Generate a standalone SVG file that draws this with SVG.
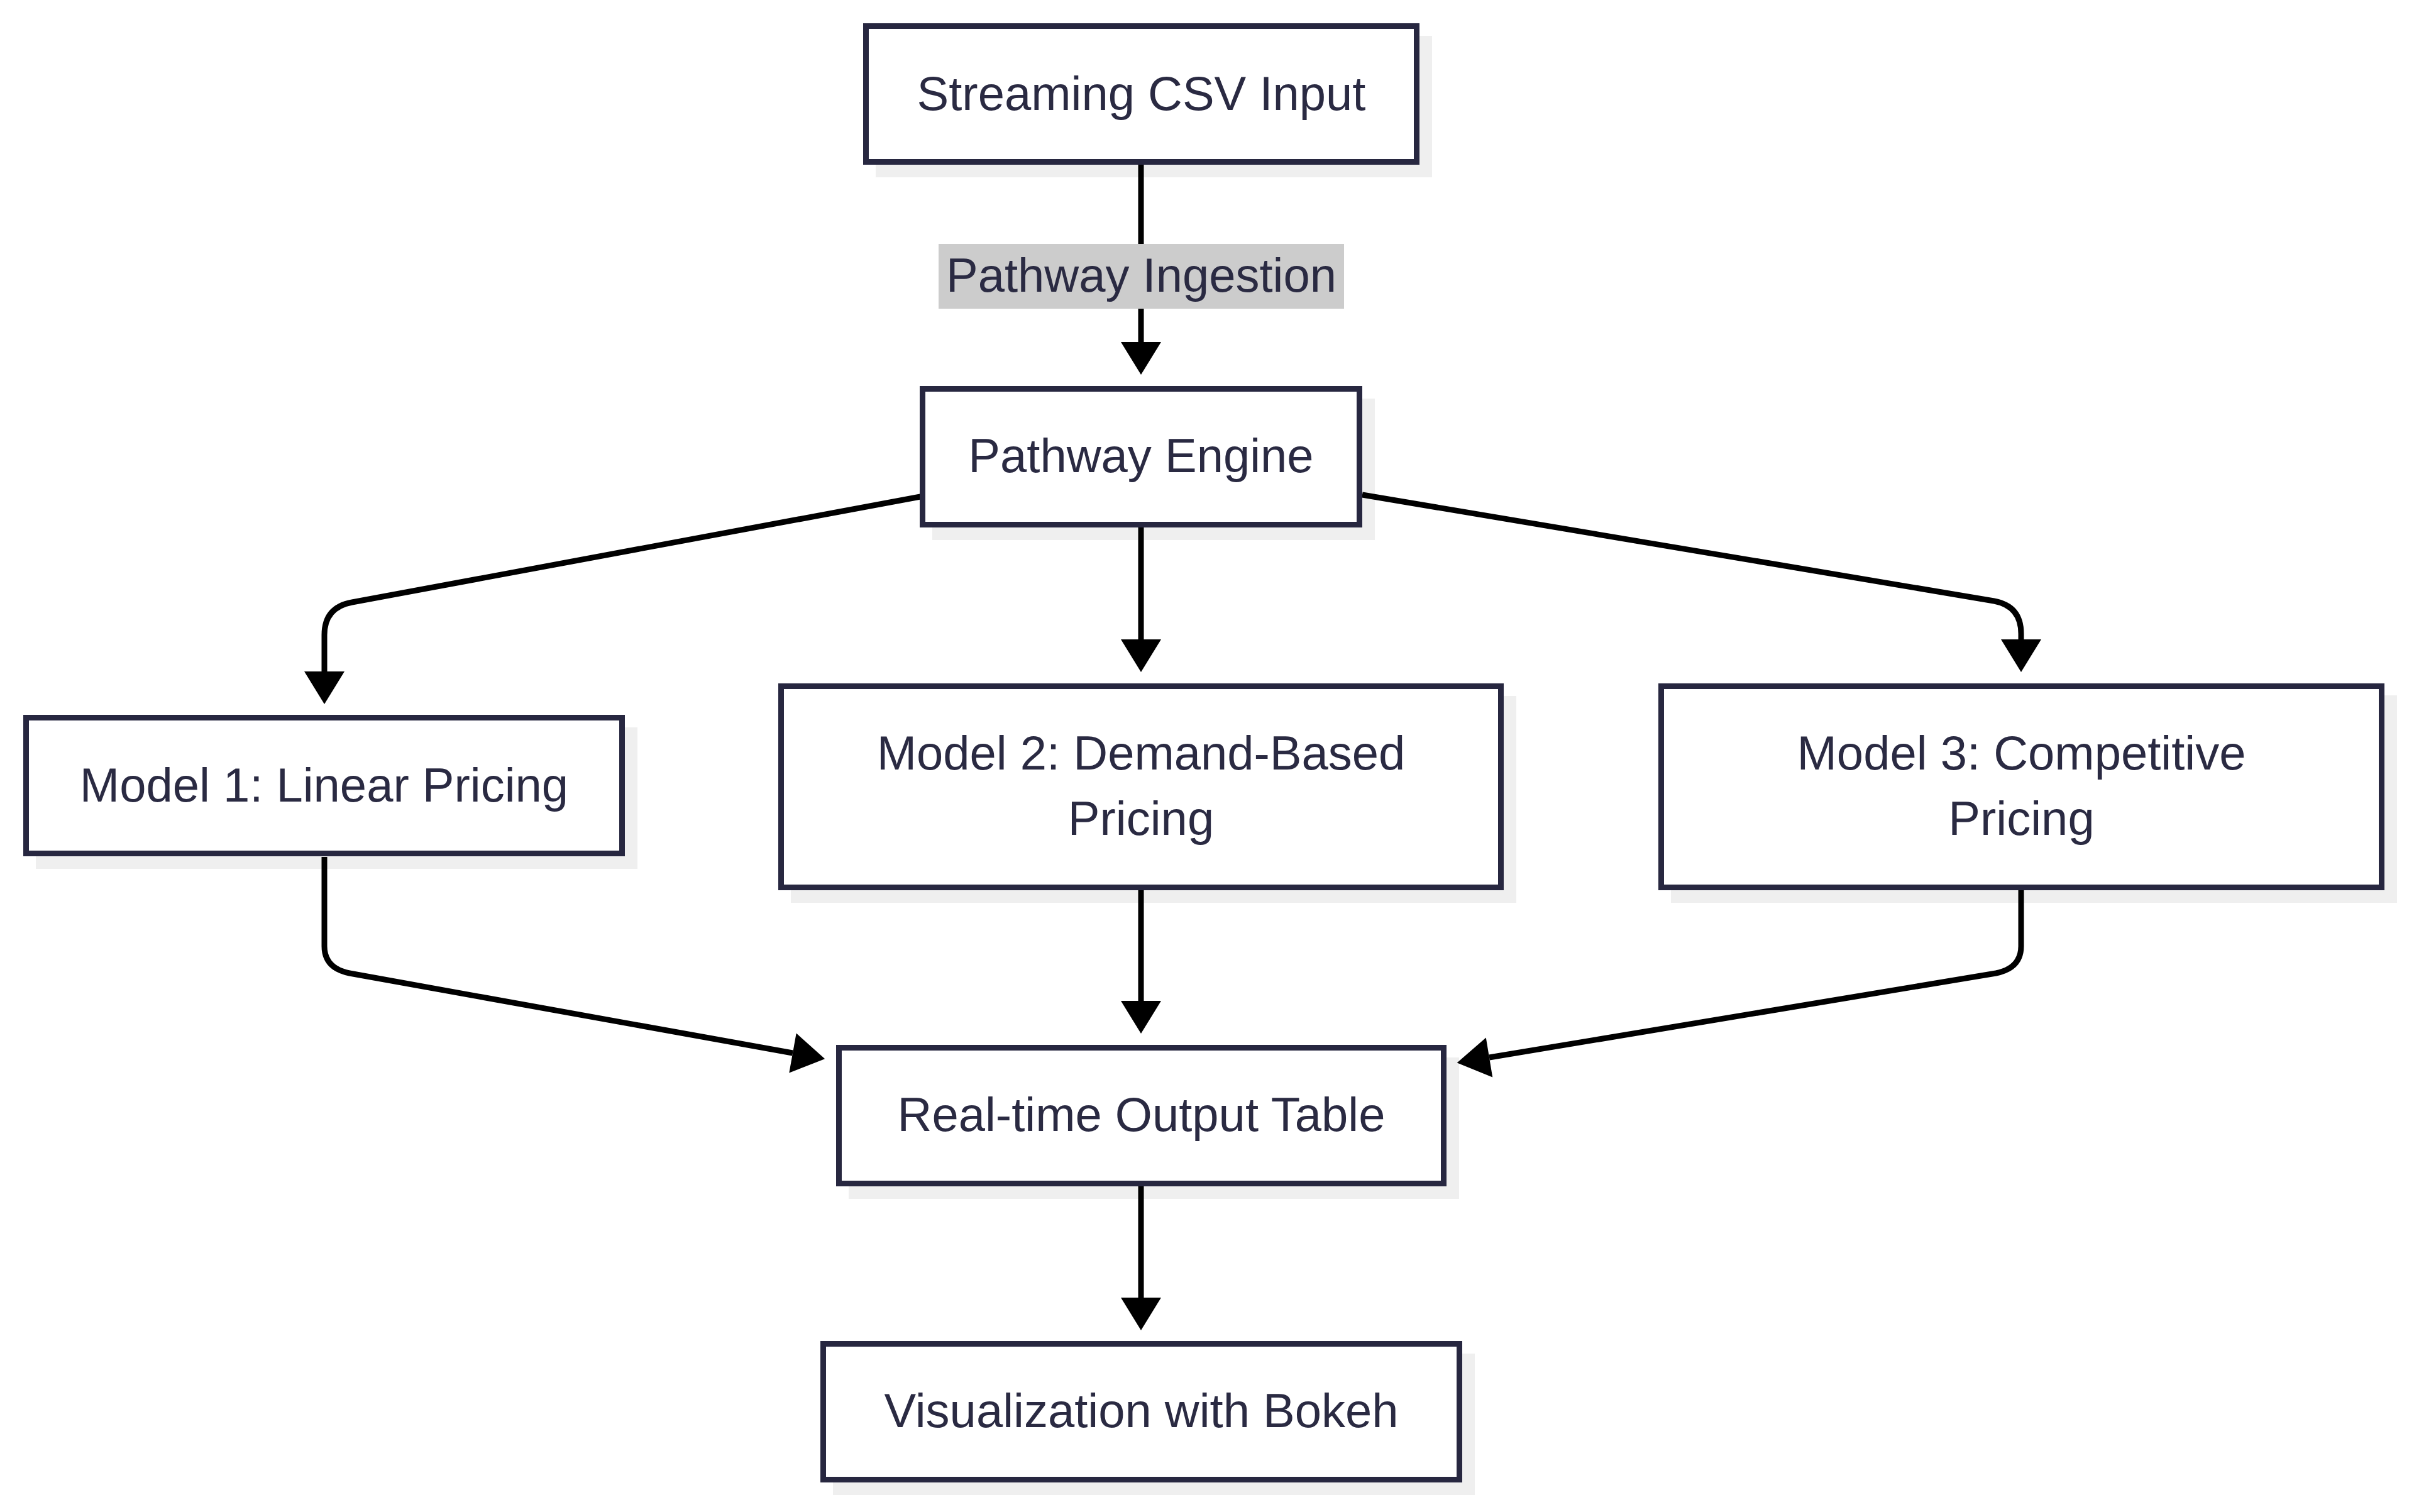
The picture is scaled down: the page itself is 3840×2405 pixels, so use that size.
<svg xmlns="http://www.w3.org/2000/svg" width="3840" height="2405" viewBox="0 0 3840 2405">
<style>
.shadow{fill:#efefef;stroke:none}
.box{fill:#ffffff;stroke:#272740;stroke-width:9}
.lbl{font-family:"Liberation Sans",Arial,sans-serif;font-size:76px;fill:#2a2a42;text-anchor:middle}
.edge{fill:none;stroke:#000000;stroke-width:9}
.elbg{fill:#cccccc}
</style>
<defs>
<marker id="arr" markerUnits="userSpaceOnUse" markerWidth="54" markerHeight="66" refX="0" refY="32" orient="auto" overflow="visible">
<path d="M0,0 L52,32 L0,64 z" fill="#000000"/>
</marker>
</defs>
<rect width="3840" height="2405" fill="#ffffff"/>
<g id="shadows">
<rect class="shadow" x="1393" y="57" width="885" height="225"/>
<rect class="shadow" x="1483" y="634" width="704" height="225"/>
<rect class="shadow" x="57" y="1157" width="957" height="225"/>
<rect class="shadow" x="1258" y="1107" width="1154" height="329"/>
<rect class="shadow" x="2658" y="1106" width="1155" height="330"/>
<rect class="shadow" x="1350" y="1682" width="971" height="225"/>
<rect class="shadow" x="1325" y="2153" width="1021" height="225"/>
</g>
<g id="connectors">
<path class="edge" d="M1815,262 L1815,544" marker-end="url(#arr)"/>
<path class="edge" d="M1815,839 L1815,1017" marker-end="url(#arr)"/>
<path class="edge" d="M1464,790 L560,958 Q516,966 516,1010 L516,1068" marker-end="url(#arr)"/>
<path class="edge" d="M2167,787 L3172,956 Q3215,964 3215,1008 L3215,1017" marker-end="url(#arr)"/>
<path class="edge" d="M516,1363 L516,1505 Q516,1540 556,1548 L1261,1675" marker-end="url(#arr)"/>
<path class="edge" d="M3215,1416 L3215,1505 Q3215,1540 3175,1548 L2369,1682" marker-end="url(#arr)"/>
<path class="edge" d="M1815,1416 L1815,1592" marker-end="url(#arr)"/>
<path class="edge" d="M1815,1887 L1815,2064" marker-end="url(#arr)"/>
<g id="label-ingestion">
<rect class="elbg" x="1493" y="388" width="645" height="103"/>
<text class="lbl" x="1815.5" y="464">Pathway Ingestion</text>
</g>
</g>
<g id="node-streaming">
<rect class="box" x="1377.5" y="41.5" width="876" height="216"/>
<text class="lbl" x="1815.5" y="175">Streaming CSV Input</text>
</g>
<g id="node-engine">
<rect class="box" x="1467.5" y="618.5" width="695" height="216"/>
<text class="lbl" x="1815" y="751">Pathway Engine</text>
</g>
<g id="node-model1">
<rect class="box" x="41.5" y="1141.5" width="948" height="216"/>
<text class="lbl" x="515.5" y="1275">Model 1: Linear Pricing</text>
</g>
<g id="node-model2">
<rect class="box" x="1242.5" y="1091.5" width="1145" height="320"/>
<text class="lbl" x="1815" y="1224">Model 2: Demand-Based</text>
<text class="lbl" x="1815" y="1328">Pricing</text>
</g>
<g id="node-model3">
<rect class="box" x="2642.5" y="1091.5" width="1146" height="320"/>
<text class="lbl" x="3215.5" y="1224">Model 3: Competitive</text>
<text class="lbl" x="3215.5" y="1328">Pricing</text>
</g>
<g id="node-output">
<rect class="box" x="1334.5" y="1666.5" width="962" height="216"/>
<text class="lbl" x="1815.5" y="1799">Real-time Output Table</text>
</g>
<g id="node-vis">
<rect class="box" x="1309.5" y="2137.5" width="1012" height="216"/>
<text class="lbl" x="1815.5" y="2270">Visualization with Bokeh</text>
</g>
</svg>
